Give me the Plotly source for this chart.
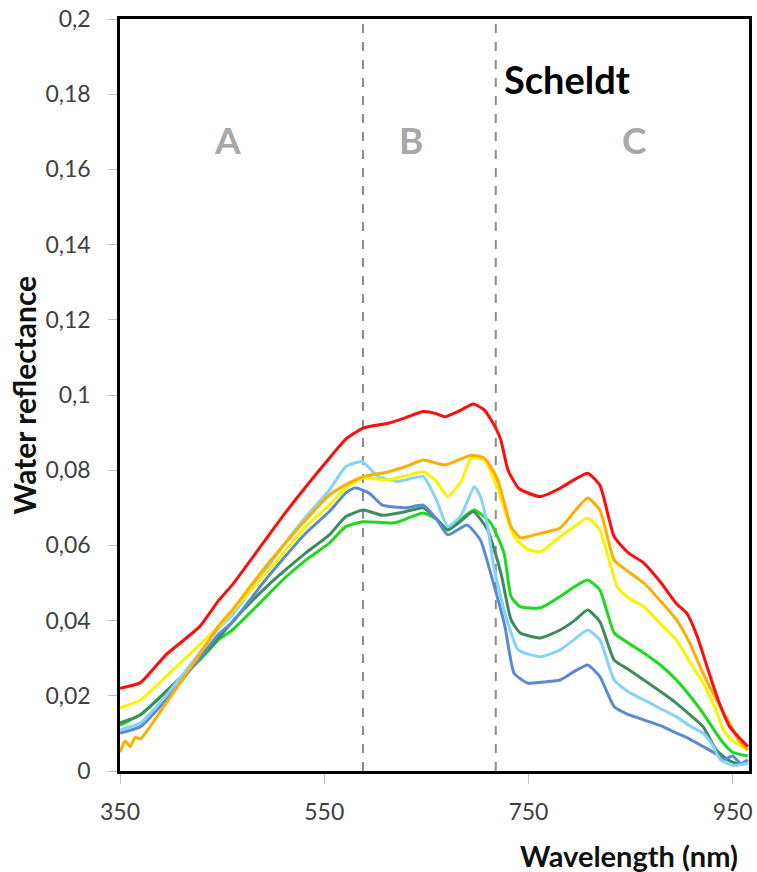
import plotly.graph_objects as go

# Wavelength grids (nm) and reflectance per sample station
wl_red = [350, 370, 395, 428, 447, 460, 490, 510, 532, 555, 571, 588, 613, 630, 647, 660, 668, 684, 696, 707, 718, 723, 730, 740, 749, 762, 781, 795, 808, 820, 834, 848, 863, 880, 895, 905, 915, 927, 937, 947, 956, 965]
rf_red = [0.022, 0.0235, 0.0309, 0.0384, 0.0455, 0.0495, 0.0606, 0.068, 0.0756, 0.0832, 0.0882, 0.0912, 0.0925, 0.094, 0.0956, 0.095, 0.0942, 0.096, 0.0976, 0.096, 0.0912, 0.088, 0.080, 0.0753, 0.074, 0.073, 0.0752, 0.0775, 0.0792, 0.076, 0.0623, 0.058, 0.0553, 0.050, 0.0445, 0.042, 0.036, 0.026, 0.018, 0.0118, 0.009, 0.0065]

wl_orange = [350, 355, 360, 365, 370, 380, 395, 428, 447, 460, 490, 510, 532, 555, 571, 588, 613, 630, 647, 668, 694, 707, 720, 733, 742, 749, 762, 781, 795, 808, 820, 834, 848, 863, 880, 895, 908, 921, 934, 947, 956, 965]
rf_orange = [0.005, 0.008, 0.0065, 0.009, 0.0085, 0.012, 0.018, 0.031, 0.0388, 0.0428, 0.0535, 0.060, 0.0668, 0.0734, 0.0761, 0.0783, 0.0796, 0.081, 0.0827, 0.0814, 0.084, 0.0832, 0.0774, 0.065, 0.062, 0.0623, 0.0632, 0.0646, 0.069, 0.0726, 0.0694, 0.0561, 0.053, 0.050, 0.045, 0.0402, 0.034, 0.026, 0.019, 0.0127, 0.008, 0.0056]

wl_yellow = [350, 370, 395, 428, 447, 460, 490, 510, 532, 555, 571, 588, 613, 630, 647, 660, 671, 684, 694, 707, 720, 736, 749, 756, 762, 781, 795, 808, 820, 837, 848, 863, 880, 895, 908, 921, 934, 941, 950, 965]
rf_yellow = [0.0168, 0.0189, 0.0251, 0.0336, 0.0385, 0.0425, 0.0517, 0.058, 0.065, 0.0707, 0.0752, 0.0779, 0.0774, 0.0785, 0.0796, 0.077, 0.073, 0.077, 0.0832, 0.0827, 0.075, 0.0623, 0.059, 0.0585, 0.0583, 0.0623, 0.065, 0.0673, 0.0641, 0.049, 0.046, 0.0437, 0.039, 0.0348, 0.029, 0.0234, 0.016, 0.0109, 0.008, 0.0056]

wl_lightblue = [350, 370, 395, 428, 447, 460, 490, 510, 532, 555, 571, 587, 603, 622, 647, 660, 671, 684, 697, 703, 710, 716, 727, 740, 762, 781, 795, 808, 820, 834, 848, 863, 880, 895, 908, 921, 930, 938, 950, 965]
rf_lightblue = [0.0109, 0.0128, 0.020, 0.0315, 0.038, 0.0415, 0.0525, 0.060, 0.0676, 0.0747, 0.0809, 0.0823, 0.0783, 0.077, 0.0783, 0.072, 0.065, 0.068, 0.0756, 0.073, 0.065, 0.0543, 0.042, 0.0322, 0.0304, 0.0322, 0.035, 0.0375, 0.0348, 0.0242, 0.021, 0.0189, 0.0165, 0.0144, 0.012, 0.0101, 0.007, 0.003, 0.0015, 0.002]

wl_steel = [350, 370, 395, 428, 447, 460, 490, 510, 532, 555, 571, 580, 594, 607, 630, 647, 660, 671, 690, 703, 713, 727, 736, 749, 762, 781, 795, 808, 820, 834, 848, 863, 880, 895, 908, 921, 934, 941, 950, 958, 965]
rf_steel = [0.0101, 0.0118, 0.0189, 0.030, 0.0365, 0.0395, 0.050, 0.0565, 0.0633, 0.069, 0.0739, 0.0753, 0.0739, 0.0707, 0.070, 0.0707, 0.067, 0.0628, 0.0654, 0.0614, 0.0526, 0.0384, 0.026, 0.0234, 0.0236, 0.0242, 0.0265, 0.0282, 0.0251, 0.0171, 0.015, 0.0136, 0.012, 0.0101, 0.0085, 0.0065, 0.0045, 0.003, 0.004, 0.002, 0.003]

wl_darkgreen = [350, 370, 395, 428, 447, 460, 490, 510, 532, 555, 571, 588, 607, 630, 647, 660, 671, 684, 696, 710, 723, 733, 742, 762, 781, 795, 808, 820, 834, 848, 863, 880, 895, 908, 921, 934, 945, 955, 965]
rf_darkgreen = [0.0128, 0.0149, 0.0211, 0.030, 0.0355, 0.0397, 0.0481, 0.053, 0.058, 0.0628, 0.0676, 0.0694, 0.068, 0.069, 0.070, 0.067, 0.0641, 0.0665, 0.069, 0.0641, 0.0527, 0.0402, 0.0367, 0.0354, 0.0375, 0.040, 0.0428, 0.0397, 0.0295, 0.027, 0.0242, 0.021, 0.018, 0.015, 0.0118, 0.0056, 0.003, 0.002, 0.002]

wl_green = [350, 370, 395, 428, 447, 460, 490, 510, 532, 555, 571, 588, 619, 647, 660, 671, 684, 697, 713, 726, 733, 742, 762, 781, 795, 808, 820, 834, 848, 863, 880, 895, 908, 921, 934, 941, 950, 965]
rf_green = [0.0122, 0.015, 0.0211, 0.0295, 0.035, 0.0375, 0.0455, 0.051, 0.0561, 0.0606, 0.065, 0.0663, 0.066, 0.0686, 0.067, 0.0641, 0.067, 0.0694, 0.066, 0.058, 0.0464, 0.0437, 0.0434, 0.0464, 0.049, 0.0508, 0.0481, 0.0367, 0.034, 0.0314, 0.028, 0.0242, 0.020, 0.0154, 0.010, 0.0074, 0.005, 0.004]

series = [
    (wl_green, rf_green, "#1ed81e"),
    (wl_darkgreen, rf_darkgreen, "#3d8c5c"),
    (wl_steel, rf_steel, "#5a8ad4"),
    (wl_lightblue, rf_lightblue, "#86d3f7"),
    (wl_yellow, rf_yellow, "#fbf200"),
    (wl_orange, rf_orange, "#ffae00"),
    (wl_red, rf_red, "#ff0c0c"),
]

# Spectral region boundaries and labels
region_bounds = [588, 718]
region_names = ["A", "B", "C"]
region_label_x = [455, 635, 854]
region_label_y = 0.168

y_ticks = [0, 0.02, 0.04, 0.06, 0.08, 0.1, 0.12, 0.14, 0.16, 0.18, 0.2]
y_ticktext = ["0", "0,02", "0,04", "0,06", "0,08", "0,1", "0,12", "0,14", "0,16", "0,18", "0,2"]
x_ticks = [350, 550, 750, 950]

FONT = "Lato"

fig = go.Figure()
for wl, rf, col in series:
    fig.add_trace(go.Scatter(
        x=wl, y=rf, mode="lines",
        line=dict(color=col, width=3, shape="spline", smoothing=0.5),
        showlegend=False, hoverinfo="skip",
    ))

for xb in region_bounds:
    fig.add_shape(type="line", xref="x", yref="y", x0=xb, x1=xb, y0=0, y1=0.2,
                  line=dict(color="#8c8c8c", width=2, dash="dash"), layer="below")

for name, xl in zip(region_names, region_label_x):
    fig.add_annotation(x=xl, y=region_label_y, text=f"<b>{name}</b>", showarrow=False,
                       font=dict(family=FONT, size=37, color="#a8a8a8"))

fig.add_annotation(x=788, y=0.184, text="<b>Scheldt</b>", showarrow=False,
                   font=dict(family=FONT, size=38, color="#000000"))

fig.add_annotation(xref="paper", yref="paper", x=0.809, y=-0.112, xanchor="center", yanchor="middle",
                   text="<b>Wavelength (nm)</b>", showarrow=False,
                   font=dict(family=FONT, size=29, color="#111111"))
fig.add_annotation(xref="paper", yref="paper", x=-0.152, y=0.5, xanchor="center", yanchor="middle",
                   textangle=-90, text="<b>Water reflectance</b>", showarrow=False,
                   font=dict(family=FONT, size=30, color="#111111"))

fig.update_layout(
    width=757, height=872,
    margin=dict(l=120, r=4, t=19, b=101),
    paper_bgcolor="white", plot_bgcolor="white",
    font=dict(family=FONT, size=23, color="#404040"),
)
fig.update_xaxes(
    range=[350, 966], tickvals=x_ticks, ticktext=[str(v) for v in x_ticks],
    showgrid=False, zeroline=False,
    showline=True, linecolor="black", linewidth=2.5, mirror=True,
    ticks="outside", ticklen=10, tickcolor="#c0c0c0", tickwidth=1,
    ticklabelstandoff=9, tickfont=dict(size=23, color="#404040"),
)
fig.update_yaxes(
    range=[0, 0.2], tickvals=y_ticks, ticktext=y_ticktext,
    showgrid=False, zeroline=False,
    showline=True, linecolor="black", linewidth=2.5, mirror=True,
    ticks="outside", ticklen=9, tickcolor="#c0c0c0", tickwidth=1,
    ticklabelstandoff=13, tickfont=dict(size=23, color="#404040"),
)

fig.write_html("out.html")
